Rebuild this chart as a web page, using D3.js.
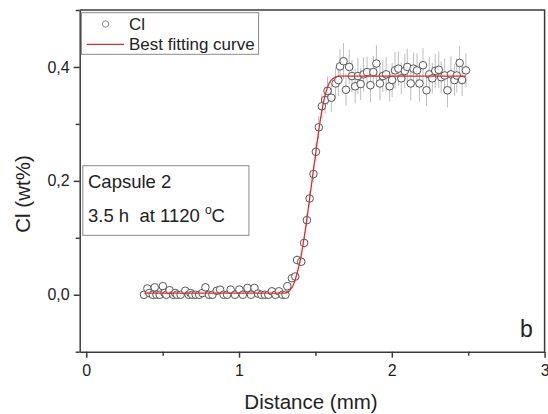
<!DOCTYPE html>
<html><head><meta charset="utf-8">
<script src="https://cdn.jsdelivr.net/npm/d3@7"></script>
<style>body{margin:0;background:#fff}svg{display:block}text{font-family:"Liberation Sans",Arial,sans-serif;fill:#222}</style>
</head><body><div id="c"></div>
<script>
// measured Cl profile (distance in mm, Cl in wt%)
const distance = [0.378,0.400,0.412,0.435,0.448,0.460,0.481,0.501,0.512,0.524,0.545,0.570,0.582,0.593,0.618,0.648,0.670,0.682,0.693,0.716,0.739,0.760,0.780,0.803,0.826,0.854,0.876,0.899,0.922,0.945,0.973,1.002,1.025,1.055,1.078,1.101,1.124,1.146,1.169,1.192,1.215,1.238,1.261,1.284,1.304,1.316,1.346,1.368,1.380,1.407,1.426,1.444,1.462,1.487,1.503,1.522,1.542,1.563,1.579,1.604,1.632,1.650,1.661,1.684,1.700,1.721,1.739,1.760,1.778,1.796,1.815,1.838,1.860,1.879,1.899,1.922,1.941,1.963,1.986,2.002,2.021,2.043,2.062,2.085,2.101,2.124,2.142,2.165,2.181,2.204,2.227,2.245,2.265,2.284,2.307,2.323,2.346,2.364,2.387,2.410,2.425,2.444,2.460,2.485];
const clValues = [0.000,0.011,0.003,0.000,0.013,0.000,0.000,0.015,0.003,0.000,0.008,0.000,0.003,0.000,0.000,0.007,0.000,0.003,0.000,0.000,0.000,0.003,0.013,0.000,0.000,0.007,0.009,0.000,0.000,0.009,0.000,0.009,0.000,0.012,0.000,0.012,0.002,0.000,0.000,0.000,0.006,0.000,0.006,0.000,0.000,0.015,0.029,0.032,0.061,0.058,0.091,0.131,0.169,0.212,0.251,0.294,0.331,0.342,0.358,0.346,0.371,0.377,0.401,0.410,0.360,0.400,0.384,0.366,0.384,0.370,0.387,0.391,0.368,0.391,0.406,0.371,0.384,0.387,0.366,0.377,0.394,0.397,0.380,0.393,0.400,0.371,0.397,0.394,0.371,0.403,0.359,0.387,0.380,0.393,0.395,0.382,0.385,0.359,0.387,0.377,0.385,0.407,0.377,0.394];
const clErrors = [0.004,0.004,0.004,0.004,0.004,0.004,0.004,0.004,0.004,0.004,0.004,0.004,0.004,0.004,0.004,0.004,0.004,0.004,0.004,0.004,0.004,0.004,0.004,0.004,0.004,0.004,0.004,0.004,0.004,0.004,0.004,0.004,0.004,0.004,0.004,0.004,0.004,0.004,0.004,0.004,0.004,0.004,0.004,0.004,0.004,0.005,0.006,0.006,0.008,0.008,0.010,0.012,0.013,0.015,0.017,0.020,0.022,0.024,0.025,0.025,0.028,0.028,0.030,0.032,0.028,0.030,0.028,0.030,0.032,0.028,0.030,0.027,0.030,0.028,0.032,0.030,0.028,0.030,0.027,0.030,0.032,0.030,0.028,0.030,0.032,0.030,0.028,0.030,0.032,0.030,0.028,0.030,0.027,0.030,0.032,0.028,0.030,0.030,0.032,0.028,0.030,0.030,0.028,0.030];
// best fitting curve
const fitX = [0.380,1.300,1.330,1.360,1.380,1.400,1.420,1.440,1.460,1.480,1.500,1.520,1.540,1.560,1.580,1.600,1.630,1.660,1.700,2.485];
const fitY = [0.003,0.003,0.007,0.020,0.038,0.060,0.090,0.125,0.165,0.205,0.245,0.285,0.320,0.347,0.365,0.376,0.382,0.384,0.384,0.384];
const xTicks = [0,1,2,3];
const yTicks = [0.0,0.2,0.4];
const legendLabels = ["Cl","Best fitting curve"];

const W=548,H=414;
const m={l:79.7,r:548-544.6,t:10,b:414-351.7};
const svg=d3.select("#c").append("svg").attr("width",W).attr("height",H);
const x=d3.scaleLinear().domain([-0.043,3]).range([m.l,W-m.r]);
const y=d3.scaleLinear().domain([-0.1,0.5]).range([H-m.b,m.t]);
const fmt=d=>d3.format(".1f")(d).replace(".",",");
const axCol="#3a3a3a";

// error bars
const pts=distance.map((d,i)=>({x:d,y:clValues[i],e:clErrors[i]}));
svg.append("g").selectAll("line").data(pts).join("line")
 .attr("x1",d=>x(d.x)).attr("x2",d=>x(d.x))
 .attr("y1",d=>y(d.y-d.e)).attr("y2",d=>y(d.y+d.e))
 .attr("stroke","#bdbdbd").attr("stroke-width",1);
// points
svg.append("g").selectAll("circle").data(pts).join("circle")
 .attr("cx",d=>x(d.x)).attr("cy",d=>y(d.y)).attr("r",3.8)
 .attr("fill","#fff").attr("fill-opacity",0.85).attr("stroke","#555").attr("stroke-width",1);
// fit
const fit=fitX.map((d,i)=>[d,fitY[i]]);
svg.append("path").datum(fit).attr("fill","none").attr("stroke","#e02a2a").attr("stroke-width",1.3)
 .attr("d",d3.line().x(d=>x(d[0])).y(d=>y(d[1])).curve(d3.curveMonotoneX));

// axes
const gx=svg.append("g").attr("transform",`translate(0,${H-m.b})`)
 .call(d3.axisBottom(x).tickValues(xTicks).tickFormat(d3.format("d")).tickSize(6).tickSizeOuter(0));
svg.append("g").attr("transform",`translate(0,${H-m.b})`)
 .call(d3.axisBottom(x).tickValues([0.5,1.5,2.5]).tickFormat("").tickSize(4).tickSizeOuter(0))
 .select(".domain").remove();
const gy=svg.append("g").attr("transform",`translate(${m.l},0)`)
 .call(d3.axisLeft(y).tickValues(yTicks).tickFormat(fmt).tickSize(6).tickSizeOuter(0));
svg.append("g").attr("transform",`translate(${m.l},0)`)
 .call(d3.axisLeft(y).tickValues([-0.1,0.1,0.3,0.5]).tickFormat("").tickSize(4).tickSizeOuter(0))
 .select(".domain").remove();
svg.selectAll(".domain,.tick line").attr("stroke",axCol).attr("stroke-width",1.5);
gx.selectAll(".tick text").attr("font-size",16).attr("dy","0.95em").style("font-family","Liberation Sans, Arial, sans-serif").attr("fill","#222");
gy.selectAll(".tick text").attr("font-size",16).attr("dx","-1").style("font-family","Liberation Sans, Arial, sans-serif").attr("fill","#222");
// frame top/right
svg.append("path").attr("d",`M${m.l},${m.t}H${W-m.r}V${H-m.b}`).attr("fill","none").attr("stroke",axCol).attr("stroke-width",1.5);

// titles
svg.append("text").attr("x",311).attr("y",409).attr("text-anchor","middle").attr("font-size",20.5).text("Distance (mm)");
svg.append("text").attr("transform","translate(30,194) rotate(-90)").attr("text-anchor","middle").attr("font-size",20.5).text("Cl (wt%)");

// legend
svg.append("rect").attr("x",81.4).attr("y",12.7).attr("width",177.2).attr("height",41.6).attr("fill","#fff").attr("stroke","#8a8a8a").attr("stroke-width",1);
svg.append("circle").attr("cx",105.6).attr("cy",24).attr("r",3.2).attr("fill","#fff").attr("stroke","#888").attr("stroke-width",1);
svg.append("line").attr("x1",86.7).attr("x2",124).attr("y1",44.3).attr("y2",44.3).attr("stroke","#e02a2a").attr("stroke-width",1.3);
svg.append("text").attr("x",129).attr("y",30).attr("font-size",17).text(legendLabels[0]);
svg.append("text").attr("x",129).attr("y",50).attr("font-size",17).text(legendLabels[1]);

// annotation
svg.append("rect").attr("x",82.8).attr("y",165.7).attr("width",166.1).attr("height",69.6).attr("fill","#fff").attr("stroke","#8a8a8a").attr("stroke-width",1);
svg.append("text").attr("x",88).attr("y",188.3).attr("font-size",18.5).text("Capsule 2");
const t2=svg.append("text").attr("x",88).attr("y",221.7).attr("font-size",18.5).attr("xml:space","preserve");
t2.append("tspan").text("3.5 h\u00a0\u00a0at 1120 ");
t2.append("tspan").attr("font-size",12).attr("dy",-8).text("o");
t2.append("tspan").attr("dy",8).text("C");
svg.append("text").attr("x",520).attr("y",337).attr("font-size",23).text("b");
</script></body></html>
